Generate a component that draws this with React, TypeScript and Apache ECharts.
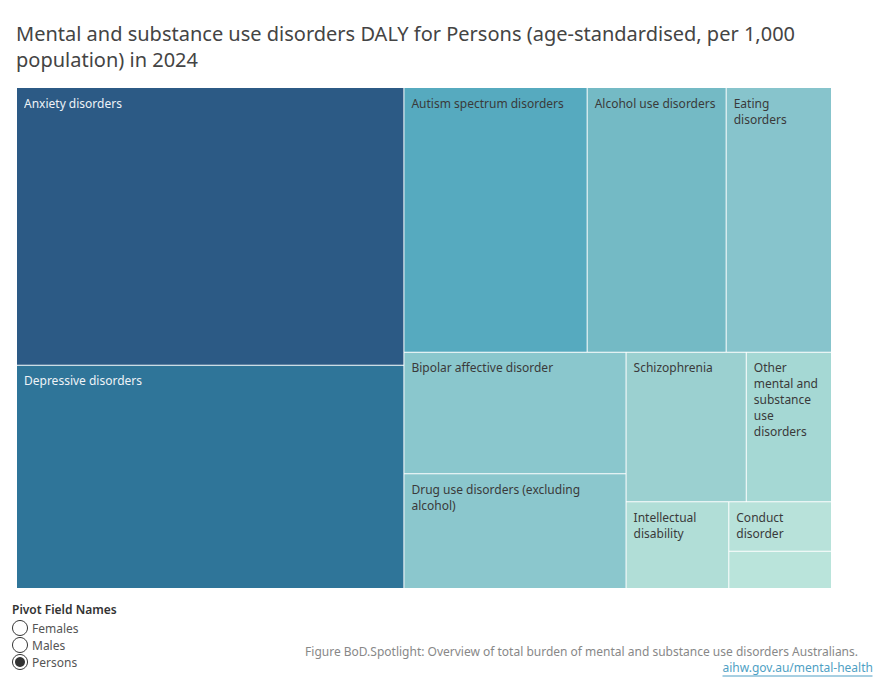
import { useEffect, useRef } from "react";
import * as echarts from "echarts";

// Mental and substance use disorders, DALY per 1,000 population (age-standardised), Persons, 2024
const categories = [
  "Anxiety disorders",
  "Depressive disorders",
  "Autism spectrum disorders",
  "Alcohol use disorders",
  "Eating disorders",
  "Bipolar affective disorder",
  "Drug use disorders (excluding alcohol)",
  "Schizophrenia",
  "Other mental and substance use disorders",
  "Intellectual disability",
  "Conduct disorder",
  "Attention-deficit hyperactivity disorder",
];

const dalyRates = [8.45, 6.79, 3.81, 2.89, 2.19, 2.12, 2.0, 1.41, 1.0, 0.7, 0.4, 0.3];

// Text shown inside each cell (wrapped the way it fits in the tile)
const cellLabels = [
  "Anxiety disorders",
  "Depressive disorders",
  "Autism spectrum disorders",
  "Alcohol use disorders",
  "Eating\ndisorders",
  "Bipolar affective disorder",
  "Drug use disorders (excluding\nalcohol)",
  "Schizophrenia",
  "Other\nmental and\nsubstance\nuse\ndisorders",
  "Intellectual\ndisability",
  "Conduct\ndisorder",
  "",
];

const cellColors = [
  "#2c5a85",
  "#2f7599",
  "#56aabf",
  "#74bac5",
  "#87c4cc",
  "#8ac7cd",
  "#8bc7cd",
  "#9bd0d0",
  "#a5d8d4",
  "#b1ded7",
  "#b8e2da",
  "#bae4db",
];

const sexOptions = ["Females", "Males", "Persons"];
const selectedSex = "Persons";

const FONT = "'Noto Sans', sans-serif";

export default function App() {
  const ref = useRef<HTMLDivElement>(null);

  useEffect(() => {
    if (!ref.current) return;
    const chart = echarts.init(ref.current, undefined, { renderer: "svg" });

    const data = categories.map((name, i) => ({
      name,
      value: dalyRates[i],
      itemStyle: { color: cellColors[i] },
      label: {
        show: cellLabels[i] !== "",
        formatter: cellLabels[i],
        color: i < 2 ? "#eef3f7" : "#3a3a3a",
      },
    }));

    const legendX = 20;
    const legendY0 = 628;
    const legendStep = 17;

    const legendGraphics: any[] = [
      {
        type: "text",
        left: 12,
        top: 603,
        style: {
          text: "Pivot Field Names",
          font: `600 12px ${FONT}`,
          fill: "#333",
        },
      },
    ];
    sexOptions.forEach((s, i) => {
      const cy = legendY0 + i * legendStep;
      legendGraphics.push({
        type: "circle",
        shape: { cx: legendX, cy, r: 7.5 },
        style: { fill: "#fff", stroke: "#333", lineWidth: 1 },
      });
      if (s === selectedSex) {
        legendGraphics.push({
          type: "circle",
          shape: { cx: legendX, cy, r: 5 },
          style: { fill: "#333" },
        });
      }
      legendGraphics.push({
        type: "text",
        x: 32,
        y: cy,
        style: {
          text: s,
          font: `12px ${FONT}`,
          fill: "#555",
          verticalAlign: "middle",
        },
      });
    });

    chart.setOption({
      animation: false,
      title: {
        text:
          "Mental and substance use disorders DALY for Persons (age-standardised, per 1,000\npopulation) in 2024",
        left: 16,
        top: 20,
        padding: 0,
        textStyle: {
          fontFamily: FONT,
          fontSize: 20,
          fontWeight: "normal",
          color: "#444",
          lineHeight: 26,
        },
      },
      series: [
        {
          type: "treemap",
          left: 17,
          top: 88,
          width: 814,
          height: 500,
          roam: false,
          nodeClick: false,
          breadcrumb: { show: false },
          sort: "desc",
          label: {
            show: true,
            position: "insideTopLeft",
            distance: 0,
            padding: [7, 7, 0, 7],
            fontFamily: FONT,
            fontSize: 12,
            lineHeight: 16,
            overflow: "none",
          },
          itemStyle: { borderWidth: 0, gapWidth: 0 },
          levels: [
            { itemStyle: { borderWidth: 0, borderColor: "#fff", gapWidth: 1 } },
            { itemStyle: { borderWidth: 0 } },
          ],
          data,
        },
      ],
      graphic: [
        ...legendGraphics,
        {
          type: "text",
          right: 32,
          top: 645,
          style: {
            text: "Figure BoD.Spotlight: Overview of total burden of mental and substance use disorders Australians.",
            font: `12px ${FONT}`,
            fill: "#888",
          },
        },
        {
          type: "group",
          right: 15,
          top: 661,
          children: [
            {
              type: "text",
              x: 0,
              y: 0,
              style: {
                text: "aihw.gov.au/mental-health",
                font: `12px ${FONT}`,
                fill: "#4f9fc4",
              },
            },
            {
              type: "line",
              shape: { x1: 0, y1: 15, x2: 150, y2: 15 },
              style: { stroke: "#4f9fc4", lineWidth: 1 },
            },
          ],
        },
      ],
    });

    return () => chart.dispose();
  }, []);

  return (
    <div
      ref={ref}
      style={{ position: "fixed", left: 0, top: 0, width: 890, height: 700, background: "#fff" }}
    />
  );
}
